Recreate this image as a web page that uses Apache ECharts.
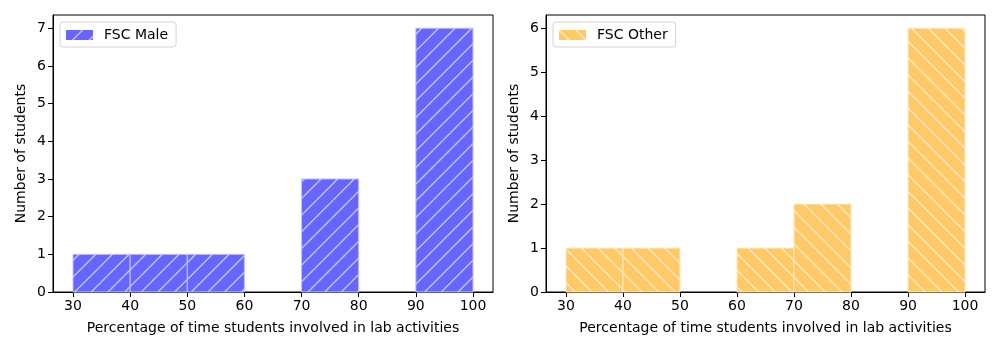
<!DOCTYPE html>
<html><head><meta charset="utf-8">
<script src="https://cdn.jsdelivr.net/npm/echarts@6/dist/echarts.min.js"></script>
<style>html,body{margin:0;padding:0;background:#fff}#c{width:1000px;height:350px}</style>
</head><body><div id="c"></div>
<script>
var binEdges = [30, 40, 50, 60, 70, 80, 90, 100];
var maleCounts = [1, 1, 1, 0, 3, 0, 7];
var otherCounts = [1, 1, 0, 1, 2, 0, 6];
var xTicks = [30, 40, 50, 60, 70, 80, 90, 100];
var maleYTicks = [0, 1, 2, 3, 4, 5, 6, 7];
var otherYTicks = [0, 1, 2, 3, 4, 5, 6];
var xTitle = 'Percentage of time students involved in lab activities';
var yTitle = 'Number of students';

function makeTile(bg, lineColor, dir) {
  var s = 50, c = document.createElement('canvas');
  c.width = s; c.height = s;
  var g = c.getContext('2d');
  g.fillStyle = bg; g.fillRect(0, 0, s, s);
  g.strokeStyle = lineColor; g.lineWidth = 1.4;
  for (var k = -3; k <= 9; k++) {
    var cc = k * s / 3;
    g.beginPath();
    if (dir === '/') { g.moveTo(cc, 0); g.lineTo(cc - s, s); }
    else { g.moveTo(cc, 0); g.lineTo(cc + s, s); }
    g.stroke();
  }
  return c;
}
var maleFill = '#6666ff', maleLine = '#c2c2ff';
var otherFill = '#ffc966', otherLine = '#ffeac2';
var malePat = {image: makeTile(maleFill, maleLine, '/'), repeat: 'repeat'};
var otherPat = {image: makeTile(otherFill, otherLine, '\\'), repeat: 'repeat'};

function histData(counts) {
  var d = [];
  for (var i = 0; i < counts.length; i++) {
    if (counts[i] > 0) d.push([binEdges[i], binEdges[i + 1], counts[i]]);
  }
  return d;
}
function renderer(pat, edge) {
  return function (params, api) {
    var p0 = api.coord([api.value(0), 0]);
    var p1 = api.coord([api.value(1), api.value(2)]);
    return {
      type: 'rect',
      shape: {x: p0[0], y: p1[1], width: p1[0] - p0[0], height: p0[1] - p1[1]},
      style: {fill: pat, stroke: edge, lineWidth: 1}
    };
  };
}
var font = 'DejaVu Sans';
function xAxis(gi) {
  return {
    type: 'value', gridIndex: gi, min: 26.5, max: 103.5,
    name: xTitle, nameLocation: 'middle', nameGap: 29,
    nameTextStyle: {fontFamily: font, fontSize: 14, color: '#000'},
    axisLine: {show: true, lineStyle: {color: '#000', width: 1}},
    axisTick: {show: true, length: 5, lineStyle: {color: '#000'}, customValues: xTicks},
    axisLabel: {fontFamily: font, fontSize: 14, color: '#000', margin: 7, customValues: xTicks},
    splitLine: {show: false}
  };
}
function yAxis(gi, max, ticks) {
  return {
    type: 'value', gridIndex: gi, min: 0, max: max,
    name: yTitle, nameLocation: 'middle', nameGap: 25,
    nameTextStyle: {fontFamily: font, fontSize: 14, color: '#000'},
    axisLine: {show: true, lineStyle: {color: '#000', width: 1}},
    axisTick: {show: true, length: 5, lineStyle: {color: '#000'}, customValues: ticks},
    axisLabel: {fontFamily: font, fontSize: 14, color: '#000', margin: 7, customValues: ticks},
    splitLine: {show: false}
  };
}
function legend(name, left, pat) {
  return {data: [{name: name, icon: 'rect', itemStyle: {color: pat}}], left: left, top: 22, orient: 'vertical',
    borderColor: '#d3d3d3', borderWidth: 1, borderRadius: 3,
    padding: [6, 8, 5, 6], itemWidth: 27, itemHeight: 10, itemGap: 8,
    textStyle: {fontFamily: font, fontSize: 14, color: '#000', padding: [0, 0, 0, 6]}};
}
var chart = echarts.init(document.getElementById('c'), null, {renderer: 'canvas'});
chart.setOption({
  animation: false,
  grid: [
    {left: 53, right: 507, top: 15, bottom: 58, show: true, borderColor: '#000', borderWidth: 1},
    {left: 546, right: 15, top: 15, bottom: 58, show: true, borderColor: '#000', borderWidth: 1}
  ],
  legend: [legend('FSC Male', 60, malePat), legend('FSC Other', 553, otherPat)],
  xAxis: [xAxis(0), xAxis(1)],
  yAxis: [yAxis(0, 7.35, maleYTicks), yAxis(1, 6.3, otherYTicks)],
  series: [
    {name: 'FSC Male', type: 'custom', xAxisIndex: 0, yAxisIndex: 0,
     itemStyle: {color: maleFill}, renderItem: renderer(malePat, maleLine), data: histData(maleCounts)},
    {name: 'FSC Other', type: 'custom', xAxisIndex: 1, yAxisIndex: 1,
     itemStyle: {color: otherFill}, renderItem: renderer(otherPat, otherLine), data: histData(otherCounts)}
  ]
});
</script></body></html>
